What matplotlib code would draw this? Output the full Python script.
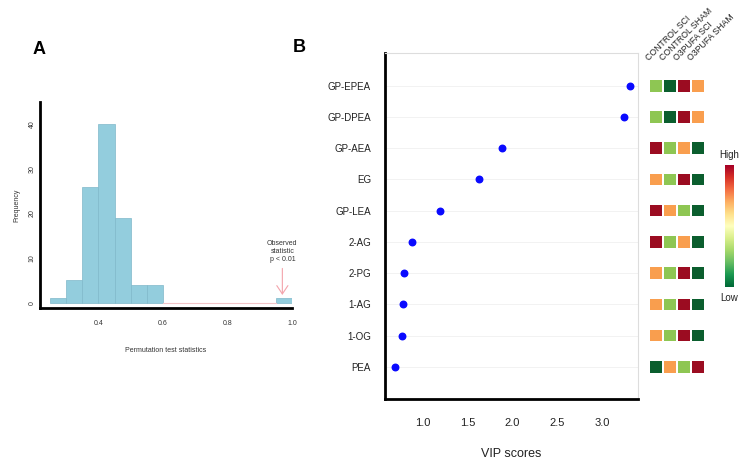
import matplotlib
matplotlib.use("Agg")
import matplotlib.pyplot as plt
import numpy as np

plt.rcParams['font.family'] = ['Liberation Sans', 'DejaVu Sans']

# panel A: permutation histogram
bin_edges = [0.25, 0.30, 0.35, 0.40, 0.45, 0.50, 0.55, 0.60, 0.65, 0.70,
             0.75, 0.80, 0.85, 0.90, 0.95, 1.00]
bin_counts = [1, 5, 26, 40, 19, 4, 4, 0, 0, 0, 0, 0, 0, 0, 1]
observed_stat = 0.97
hist_xticks = [0.4, 0.6, 0.8, 1.0]
hist_yticks = [0, 10, 20, 30, 40]

# panel B: VIP scores
metabolites = ['GP-EPEA', 'GP-DPEA', 'GP-AEA', 'EG', 'GP-LEA',
               '2-AG', '2-PG', '1-AG', '1-OG', 'PEA']
vip_scores = [3.31, 3.24, 1.88, 1.63, 1.19, 0.88, 0.79, 0.78, 0.77, 0.69]
groups = ['CONTROL SCI', 'CONTROL SHAM', 'O3PUFA SCI', 'O3PUFA SHAM']
# relative level per group (1 = low ... 4 = high)
levels = [
    [2, 1, 4, 3],
    [2, 1, 4, 3],
    [4, 2, 3, 1],
    [3, 2, 4, 1],
    [4, 3, 2, 1],
    [4, 2, 3, 1],
    [3, 2, 4, 1],
    [3, 2, 4, 1],
    [3, 2, 4, 1],
    [1, 3, 2, 4],
]
level_colors = ['#0b5e2e', '#8ec653', '#f99e4e', '#9b0c21']

fig = plt.figure(figsize=(7.49, 4.67), dpi=100)

# ---- panel A ----
axA = fig.add_axes([0.0534, 0.3405, 0.3365, 0.441])
lefts = np.array(bin_edges[:-1])
widths = np.diff(bin_edges)
counts = np.array(bin_counts)
full = counts > 0
axA.bar(lefts[full], counts[full], width=widths[full], align='edge',
        color='#93cddd', edgecolor='#7fb8ca', linewidth=0.5)
empty = np.where(~full)[0]
axA.plot([bin_edges[empty[0]], bin_edges[empty[-1] + 1]], [0, 0],
         color='#f2c4c8', lw=0.8)
axA.annotate('', xy=(observed_stat, 1.1), xytext=(observed_stat, 8.3),
             arrowprops=dict(arrowstyle='->,head_length=0.6,head_width=0.4',
                             color='#f4a3ab', lw=0.8))
axA.text(observed_stat, 11.5, 'Observed\nstatistic\np < 0.01', ha='center',
         va='center', fontsize=5, color='#333333', linespacing=1.2)
axA.set_xlim(0.219, 1.0)
axA.set_ylim(-1.2, 45)
axA.set_xticks(hist_xticks)
axA.set_xticklabels(['%.1f' % t for t in hist_xticks])
axA.set_yticks(hist_yticks)
axA.set_yticklabels([str(t) for t in hist_yticks], rotation=90, va='center')
axA.tick_params(length=0, labelsize=5, colors='#333333')
axA.tick_params(axis='y', pad=3)
axA.tick_params(axis='x', pad=9)
for s in ['top', 'right']:
    axA.spines[s].set_visible(False)
for s in ['left', 'bottom']:
    axA.spines[s].set_linewidth(2)
axA.set_xlabel('Permutation test statistics', fontsize=5, color='#333333', labelpad=14)
axA.set_ylabel('Frequency', fontsize=5, color='#333333', labelpad=6)

# ---- panel B ----
axB = fig.add_axes([0.514, 0.1456, 0.3378, 0.741])
ypos = np.arange(len(metabolites))[::-1] + 1
for y in ypos:
    axB.axhline(y, color='#f0f0f0', lw=0.6, zorder=0)
axB.scatter(vip_scores, ypos, s=22, color='#0a0aff', zorder=3)
axB.set_xlim(0.579, 3.40)
axB.set_ylim(-0.03, 11.05)
axB.set_yticks(ypos)
axB.set_yticklabels(metabolites)
axB.set_xticks([1.0, 1.5, 2.0, 2.5, 3.0])
axB.tick_params(axis='y', length=0, labelsize=7, pad=10, colors='#222222')
axB.tick_params(axis='x', length=0, labelsize=8, pad=14, colors='#222222')
for s in ['top', 'right']:
    axB.spines[s].set_color('#dddddd')
    axB.spines[s].set_linewidth(0.8)
for s in ['left', 'bottom']:
    axB.spines[s].set_linewidth(2)
axB.set_xlabel('VIP scores', fontsize=9, labelpad=14, color='#222222')

# ---- heatmap squares ----
axH = fig.add_axes([649 / 749, 0.1456, 56 / 749, 0.741])
axH.set_xlim(-0.5, 3.5)
axH.set_ylim(-0.03, 11.05)
for i, row in enumerate(levels):
    xs = np.arange(len(groups))
    axH.scatter(xs, [ypos[i]] * len(xs), marker='s', s=70,
                c=[level_colors[v - 1] for v in row], linewidths=0)
for j, g in enumerate(groups):
    axH.annotate(g, xy=(j, 1.0), xycoords=('data', 'axes fraction'),
                 xytext=(-4, -7), textcoords='offset points',
                 rotation=45, rotation_mode='anchor', ha='left', va='bottom',
                 fontsize=6.3, color='#222222')
axH.axis('off')

# ---- colour bar ----
axC = fig.add_axes([725 / 749, 0.3854, 8.5 / 749, 0.261])
grad = np.linspace(0, 1, 256).reshape(-1, 1)
axC.imshow(grad, aspect='auto', cmap='RdYlGn_r', origin='lower')
axC.set_xticks([])
axC.set_yticks([])
for s in axC.spines.values():
    s.set_visible(False)
fig.text(729 / 749, 1 - 155 / 467, 'High', ha='center', va='center', fontsize=7, color='#222222')
fig.text(729 / 749, 1 - 298 / 467, 'Low', ha='center', va='center', fontsize=7, color='#222222')

# panel letters
fig.text(33 / 749, 1 - 50 / 467, 'A', fontsize=13, fontweight='bold', ha='left', va='center')
fig.text(293 / 749, 1 - 47 / 467, 'B', fontsize=13, fontweight='bold', ha='left', va='center')

fig.savefig('out.png', dpi=100)
